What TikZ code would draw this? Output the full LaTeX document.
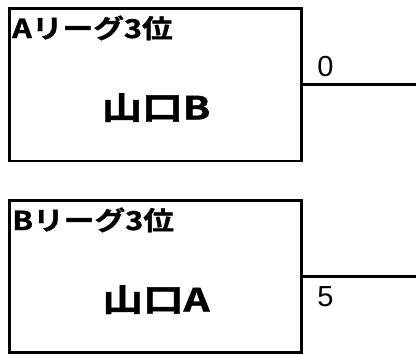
\documentclass[tikz,border=0pt]{standalone}
\usepackage{fontspec}
\setmainfont{Noto Sans CJK JP}[BoldFont={Noto Sans CJK JP Bold},BoldFeatures={FakeBold=1.2}]
\newfontfamily\digitfont{Liberation Sans}
\begin{document}
\begin{tikzpicture}[x=1pt,y=-1pt,
  box/.style={draw,line width=2.6pt},
  lnk/.style={line width=2.6pt},
  ttl/.style={anchor=base west,inner sep=0pt,font=\fontsize{26}{26}\selectfont\bfseries,xscale=1.18},
  team/.style={anchor=base,inner sep=0pt,font=\fontsize{32}{32}\selectfont\bfseries,xscale=1.27},
  score/.style={anchor=base,inner sep=0pt,font=\fontsize{29}{29}\selectfont\digitfont}]
\useasboundingbox (0,0) rectangle (416,354);
\draw[box] (9.5,8.5) rectangle (301.5,161);
\coordinate (b1r) at (301.5,84.5);
\coordinate (e1) at (416,84.5);
\draw[lnk] (b1r) -- (e1);
\node[ttl] (t1) at (12,38) {Aリーグ3位};
\node[team] (n1) at (156,119.5) {山口B};
\node[score] (s1) at (325.5,76.5) {0};
\draw[box] (9.5,200.5) rectangle (301.5,352.5);
\coordinate (b2r) at (301.5,276.5);
\coordinate (e2) at (416,276.5);
\draw[lnk] (b2r) -- (e2);
\node[ttl] (t2) at (12,230) {Bリーグ3位};
\node[team] (n2) at (156,311.5) {山口A};
\node[score] (s2) at (325.5,306.5) {5};
\end{tikzpicture}
\end{document}
